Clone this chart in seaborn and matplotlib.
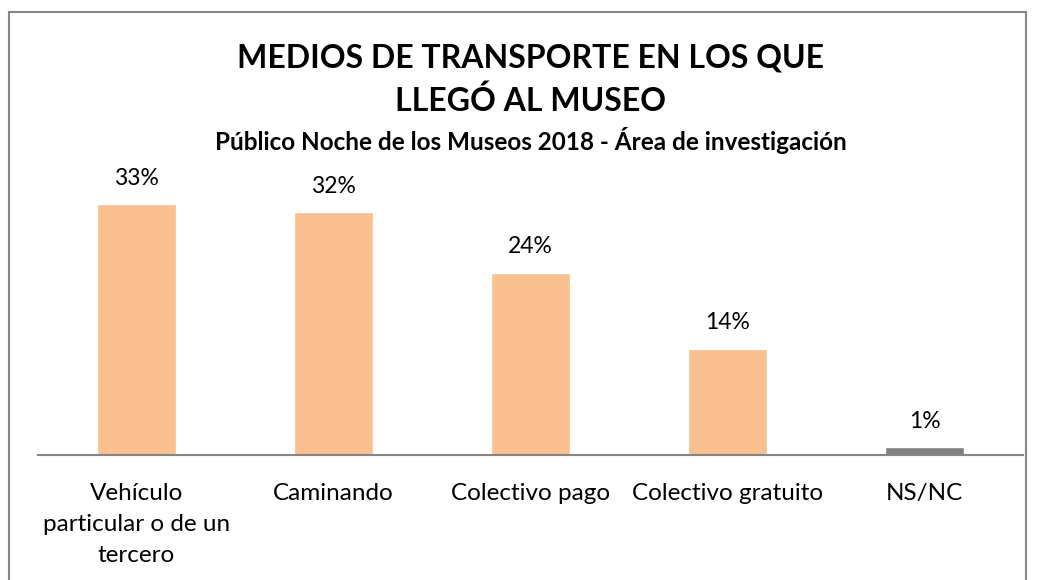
import matplotlib
matplotlib.use("Agg")
import matplotlib.pyplot as plt
import seaborn as sns
import pandas as pd
from matplotlib.patches import Rectangle

categorias = ["Vehículo\nparticular o de un\ntercero", "Caminando", "Colectivo pago",
              "Colectivo gratuito", "NS/NC"]
valores = [33, 32, 24, 14, 1]
etiquetas = ["33%", "32%", "24%", "14%", "1%"]
colores = ["#FAC090", "#FAC090", "#FAC090", "#FAC090", "#808080"]

titulo = "MEDIOS DE TRANSPORTE EN LOS QUE\nLLEGÓ AL MUSEO"
subtitulo = "Público Noche de los Museos 2018 - Área de investigación"

sns.set_theme(style="white")
plt.rcParams["font.family"] = ["Lato", "DejaVu Sans"]
plt.rcParams["text.color"] = "#000000"

df = pd.DataFrame({"cat": categorias, "val": valores})

W, H = 1038, 580
fig = plt.figure(figsize=(W / 100, H / 100), dpi=100)
ax = fig.add_axes([38 / W, 1 - 455 / H, (1023 - 38) / W, (455 - 160) / H])

sns.barplot(data=df, x="cat", y="val", hue="cat", palette=colores, legend=False,
            width=0.4, ax=ax, saturation=1)
ax.set_xlim(-0.5, 4.5)
ax.set_ylim(0, 295 / 7.6)

for i, (v, t) in enumerate(zip(valores, etiquetas)):
    ax.text(i, v + 2.0, t, ha="center", va="bottom", fontsize=16.5, color="#000000")

for s in ["top", "right", "left"]:
    ax.spines[s].set_visible(False)
ax.spines["bottom"].set_color("#868686")
ax.spines["bottom"].set_linewidth(1.5)
ax.set_yticks([])
ax.set_xlabel("")
ax.set_ylabel("")
ax.tick_params(axis="x", length=0, pad=20, labelsize=17.5, labelcolor="#000000")
for lbl in ax.get_xticklabels():
    lbl.set_linespacing(1.6)
    lbl.set_verticalalignment("top")

fig.text(530.5 / W, 1 - 80 / H, titulo, ha="center", va="center", fontsize=23,
         fontweight="bold", linespacing=1.5, color="#000000")
fig.text(530.5 / W, 1 - 140 / H, subtitulo, ha="center", va="center", fontsize=17.5,
         fontweight="bold", color="#000000")

fig.patches.append(Rectangle((9 / W, -0.1), (1026 - 9) / W, 1 - 12 / H + 0.1,
                             transform=fig.transFigure, fill=False,
                             edgecolor="#868686", linewidth=1.5))

fig.savefig("out.png", dpi=100)
